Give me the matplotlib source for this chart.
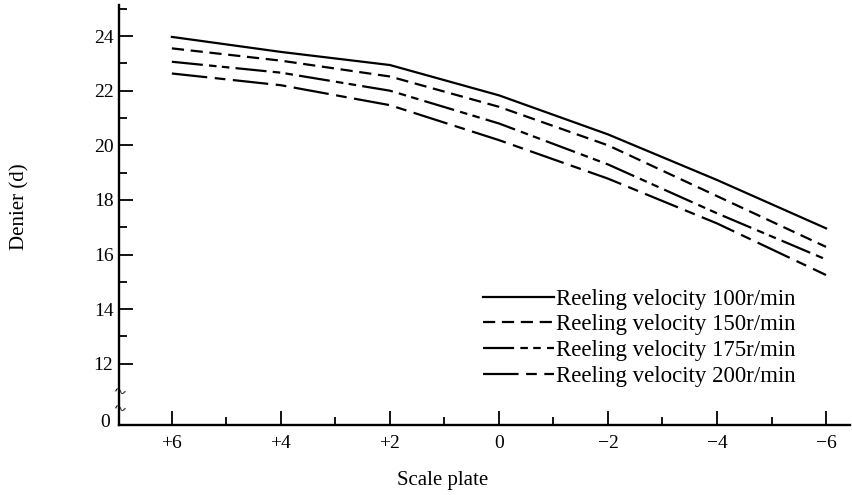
import matplotlib.pyplot as plt
from matplotlib.ticker import MultipleLocator

plt.rcParams['font.family'] = ['Liberation Serif', 'DejaVu Serif']

# Values (scale plate position vs denier)
scale_plate = [6, 4, 2, 0, -2, -4, -6]
denier_100 = [23.97, 23.42, 22.94, 21.83, 20.40, 18.73, 16.96]
denier_150 = [23.55, 23.10, 22.52, 21.41, 20.00, 18.14, 16.28]
denier_175 = [23.06, 22.66, 22.00, 20.80, 19.30, 17.51, 15.82]
denier_200 = [22.63, 22.20, 21.47, 20.19, 18.78, 17.14, 15.25]
labels = ["Reeling velocity 100r/min", "Reeling velocity 150r/min",
          "Reeling velocity 175r/min", "Reeling velocity 200r/min"]
y_ticks = [12, 14, 16, 18, 20, 22, 24]
x_ticks = [6, 4, 2, 0, -2, -4, -6]
x_ticklabels = ["+6", "+4", "+2", "0", "\u22122", "\u22124", "\u22126"]

fig = plt.figure(figsize=(8.53, 4.95), dpi=100)
ax = fig.add_axes([0.1395, 0.141, 0.857, 0.849])

lw = 1.6
ax.plot(scale_plate, denier_100, color='black', lw=lw, label=labels[0])
ax.plot(scale_plate, denier_150, color='black', lw=lw, dashes=(5.5, 3), label=labels[1])
ax.plot(scale_plate, denier_175, color='black', lw=lw,
        dashes=(14, 2.8, 3.4, 2.4, 3.4, 2.8), label=labels[2])
ax.plot(scale_plate, denier_200, color='black', lw=lw,
        dashes=(16, 3.4, 4.8, 3.4), label=labels[3])

y_bottom = 9.75
ax.set_xlim(6.97, -6.44)
ax.set_ylim(y_bottom, 25.14)

for s in ['top', 'right']:
    ax.spines[s].set_visible(False)
for s in ['left', 'bottom']:
    ax.spines[s].set_linewidth(1.7)

ax.set_xticks(x_ticks)
ax.set_xticklabels(x_ticklabels)
ax.xaxis.set_minor_locator(MultipleLocator(1))
ax.set_yticks(y_ticks)
ax.yaxis.set_minor_locator(plt.FixedLocator([13, 15, 17, 19, 21, 23, 25]))
ax.tick_params(which='major', direction='in', length=10, width=1.3, labelsize=14)
ax.tick_params(which='minor', direction='in', length=6, width=1.3)
ax.tick_params(axis='y', which='major', pad=4)
ax.tick_params(axis='x', which='major', pad=7)

# "0" at the broken bottom of the y axis, plus break marks
ax.text(-0.012, y_bottom + 0.1, "0", transform=ax.get_yaxis_transform(),
        ha='right', va='center', fontsize=14)
ax.text(0.0, 10.9, "~", transform=ax.get_yaxis_transform(), ha='center',
        va='center', fontsize=15, rotation=-20)
ax.text(0.0, 10.3, "~", transform=ax.get_yaxis_transform(), ha='center',
        va='center', fontsize=15, rotation=-20)

leg = ax.legend(loc='upper left', bbox_to_anchor=(0.498, 0.325), frameon=False,
                fontsize=16.5, handlelength=3.1, handletextpad=0.1,
                labelspacing=0.2, borderpad=0, borderaxespad=0)

fig.text(20 / 853, 1 - 207 / 495, "Denier (d)", rotation=90, ha='center',
         va='center', fontsize=15)
fig.text(443 / 853, 1 - 480 / 495, "Scale plate", ha='center', va='center',
         fontsize=15)

fig.savefig("out.png", dpi=100)
